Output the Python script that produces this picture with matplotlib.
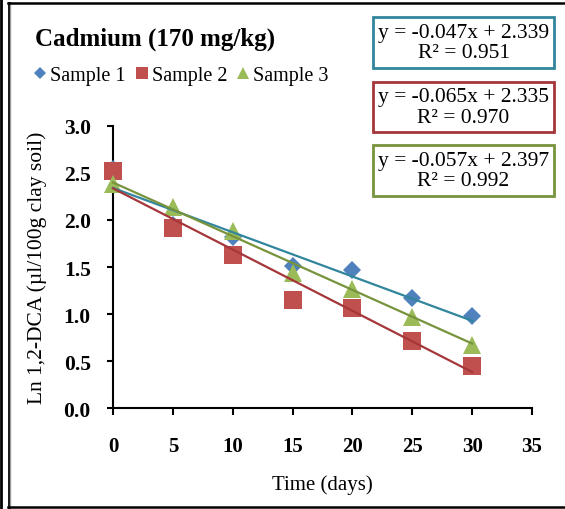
import matplotlib
matplotlib.use("Agg")
import matplotlib.pyplot as plt
from matplotlib.lines import Line2D
import numpy as np

# ---- data ----
days = [0, 5, 10, 15, 20, 25, 30]
sample1 = [2.54, 1.95, 1.815, 1.51, 1.47, 1.17, 0.98]
sample2 = [2.52, 1.91, 1.63, 1.15, 1.07, 0.71, 0.45]
sample3 = [2.38, 2.14, 1.88, 1.44, 1.27, 0.97, 0.67]
series_names = ["Sample 1", "Sample 2", "Sample 3"]
slopes = [-0.047, -0.065, -0.057]
intercepts = [2.339, 2.335, 2.397]
r2 = [0.951, 0.970, 0.992]
xticks = [0, 5, 10, 15, 20, 25, 30, 35]
yticks = [0.0, 0.5, 1.0, 1.5, 2.0, 2.5, 3.0]
title = "Cadmium (170 mg/kg)"
xlabel = "Time (days)"
ylabel = "Ln 1,2-DCA (µl/100g clay soil)"

W, H = 565, 510
fig = plt.figure(figsize=(W / 100, H / 100), dpi=100)
ax = fig.add_axes([113 / W, 1 - 409.3 / H, (532 - 113) / W, (409.3 - 126.7) / H])

serif = "Liberation Serif"
marker_colors = ["#4F81BD", "#C0504D", "#9BBB59"]
line_colors = ["#31859C", "#A5363A", "#77933C"]
markers = ["D", "s", "^"]
msizes = [9.5, 13.5, 13.5]
data = [sample1, sample2, sample3]

handles = []
for i in range(3):
    h, = ax.plot(days, data[i], linestyle="none", marker=markers[i], ms=msizes[i],
                 color=marker_colors[i], markeredgewidth=0, zorder=3 + i,
                 label=series_names[i], clip_on=False)
    handles.append(h)

xs = np.array([min(days), max(days)])
for i in range(3):
    ax.plot(xs, slopes[i] * xs + intercepts[i], color=line_colors[i], lw=1.6, zorder=7,
            clip_on=False)

ax.set_xlim(0, 35)
ax.set_ylim(0, 3.0)
ax.set_xticks(xticks)
ax.set_yticks(yticks)
ax.set_xticklabels([str(t) for t in xticks], fontfamily=serif, fontweight="bold", fontsize=15)
ax.set_yticklabels([f"{t:.1f}" for t in yticks], fontfamily=serif, fontweight="bold", fontsize=15.5)
ax.tick_params(axis="x", direction="out", length=5, width=1.5, pad=15)
ax.tick_params(axis="y", direction="out", length=4, width=1.5, pad=12)
for s in ["top", "right"]:
    ax.spines[s].set_visible(False)
for s in ["left", "bottom"]:
    ax.spines[s].set_linewidth(1.5)

ax.set_xlabel(xlabel, fontfamily=serif, fontsize=15, labelpad=13)
ax.set_ylabel(ylabel, fontfamily=serif, fontsize=15.5, labelpad=12)

fig.text(35 / W, 1 - 39 / H, title, fontfamily=serif, fontweight="bold", fontsize=18,
         va="center", ha="left")

leg = fig.legend(handles=handles, loc="center left", bbox_to_anchor=(34 / W, 1 - 76 / H),
                 ncol=3, frameon=False, prop={"family": serif, "size": 14.5},
                 handlelength=0.6, handletextpad=0.2, columnspacing=0.5,
                 markerscale=0.6, borderaxespad=0, borderpad=0)

box_centers = [43.5, 108, 171.5]
for i in range(3):
    txt = f"y = {slopes[i]:.3f}x + {intercepts[i]:.3f}\nR² = {r2[i]:.3f}"
    fig.text(463.5 / W, 1 - box_centers[i] / H, txt, fontfamily=serif, fontsize=15.5,
             ha="center", va="center", linespacing=1.1,
             bbox=dict(boxstyle="square,pad=0.25", fc="white", ec=line_colors[i], lw=2))

# frame lines
def fline(x0, y0, x1, y1, c="black", lw=1.5):
    fig.add_artist(Line2D([x0 / W, x1 / W], [1 - y0 / H, 1 - y1 / H], color=c, lw=lw,
                          transform=fig.transFigure))

fline(1, 0, 1, H, lw=2)
fline(8.5, 4, 8.5, H, lw=2)
fline(10.3, 5, 10.3, 507, c="#999999", lw=1)
fline(8, 4, W, 4, lw=1.8)
fline(8, 508, W, 508, lw=1.8)

fig.savefig("out.png", dpi=100)
